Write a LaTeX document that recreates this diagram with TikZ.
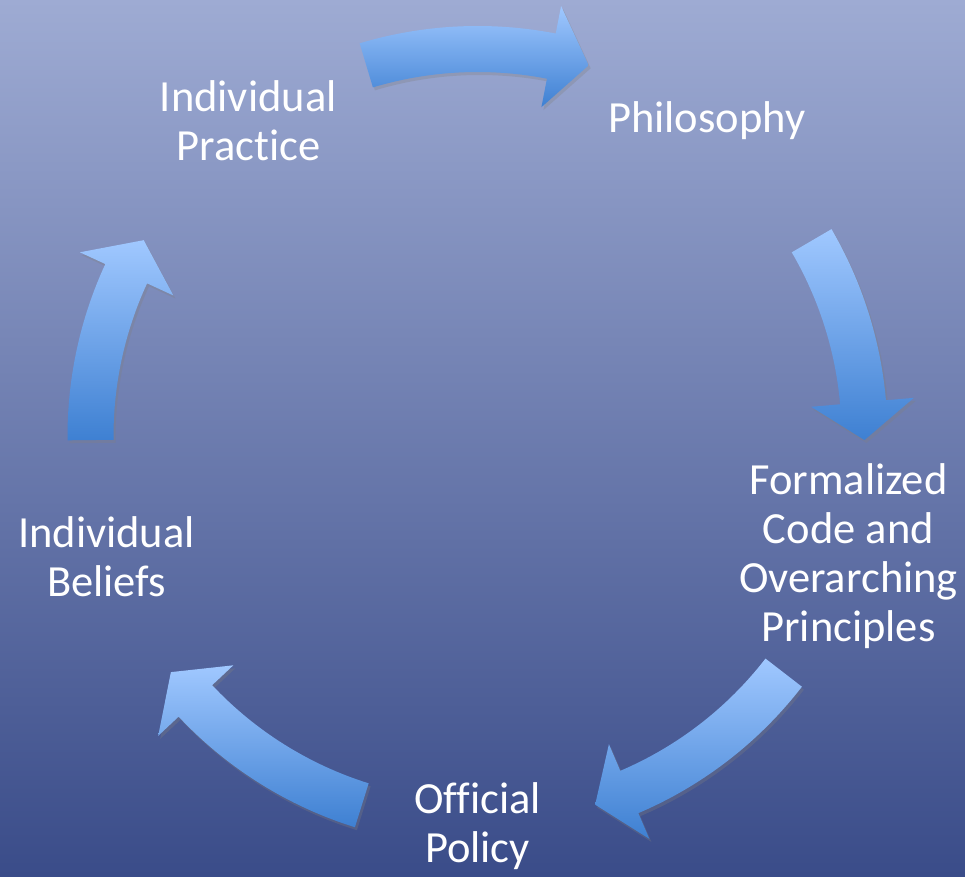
\documentclass[tikz,border=0pt]{standalone}
\usepackage{fontspec}
\setmainfont{Carlito}[Ligatures={NoCommon}]
\usepackage{tikz}
\usetikzlibrary{shadows}
\definecolor{bgtop}{RGB}{158,171,211}
\definecolor{bgbottom}{RGB}{58,76,137}
\definecolor{arrowtop}{RGB}{160,200,255}
\definecolor{arrowbottom}{RGB}{62,128,210}
\tikzset{
    cyclelabel/.style={text=white, align=center, inner sep=0pt,
        font=\fontsize{44.5}{49}\selectfont},
    blockarrow/.style={top color=arrowtop, bottom color=arrowbottom, draw=none,
        drop shadow={opacity=0.3, shadow xshift=2pt, shadow yshift=-3pt}},
}
% #1 tail angle, #2 angle of the head base, #3 angle of the tip
\newcommand{\cyclearrow}[3]{%
    \path[blockarrow] (#1:410pt) arc[start angle=#1, end angle=#2, radius=410pt]
        -- (#2:438pt) -- (#3:387pt) -- (#2:335pt) -- (#2:364pt)
        arc[start angle=#2, end angle=#1, radius=364pt] -- cycle;}

\begin{document}
\begin{tikzpicture}
    \fill[top color=bgtop, bottom color=bgbottom] (-477.5pt,436pt) rectangle (487.5pt,-440pt);
    \useasboundingbox (-477.5pt,436pt) rectangle (487.5pt,-440pt);
    % arrows
    \cyclearrow{106.7}{79.0}{73.3}
    \cyclearrow{30.3}{5.0}{-0.6}
    \cyclearrow{-37.7}{-66.9}{-72.3}
    \cyclearrow{-107.4}{-136.8}{-142.4}
    \cyclearrow{180.6}{155.2}{149.6}
    % labels
    \node[cyclelabel] (practice) at (126:390pt) {Individual\\Practice};
    \node[cyclelabel] (philosophy) at (54:390pt) {Philosophy};
    \node[cyclelabel] (code) at (-18:390pt) {Formalized\\Code and\\Overarching\\Principles};
    \node[cyclelabel] (policy) at (-90:390pt) {Official\\Policy};
    \node[cyclelabel] (beliefs) at (198:390pt) {Individual\\Beliefs};
\end{tikzpicture}
\end{document}
